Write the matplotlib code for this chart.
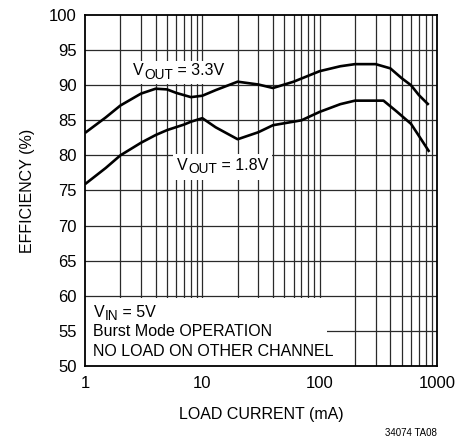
import numpy as np
import matplotlib
matplotlib.use("Agg")
import matplotlib.pyplot as plt
from matplotlib.patches import Rectangle
from matplotlib.transforms import offset_copy, Bbox

plt.rcParams['font.family'] = ['Liberation Sans Narrow', 'Liberation Sans', 'DejaVu Sans']

# load current (mA) and efficiency (%)
i_33 = [1, 1.5, 2, 3, 4, 5, 6, 8, 10, 13, 20, 30, 40, 60, 100, 150, 200, 300, 400, 500, 600, 700, 850]
eff_33 = [83.2, 85.4, 87.1, 88.8, 89.5, 89.4, 88.9, 88.3, 88.5, 89.3, 90.5, 90.1, 89.6, 90.5,
          92.0, 92.7, 93.0, 93.0, 92.4, 91.0, 90.0, 88.6, 87.2]
i_18 = [1, 1.5, 2, 3, 4, 5, 7, 8, 10, 13, 20, 30, 40, 70, 100, 150, 200, 350, 450, 600, 700, 860]
eff_18 = [75.9, 78.2, 80.0, 81.8, 82.9, 83.6, 84.4, 84.8, 85.3, 84.0, 82.3, 83.3, 84.3, 85.0,
          86.2, 87.3, 87.8, 87.8, 86.3, 84.5, 82.8, 80.5]

xticks = [1, 10, 100, 1000]
yticks = list(range(50, 101, 5))

grid_color = "#2a2a2a"
fs = 11.5
tick_fs = 12

fig = plt.figure(figsize=(4.71, 4.48), dpi=100)
ax = fig.add_axes([85 / 471, 1 - 366 / 448, 352 / 471, 351 / 448])
ax.set_xscale('log')
ax.set_xlim(1, 1000)
ax.set_ylim(50, 100)
renderer = fig.canvas.get_renderer()


def sub_text(x, y, base, sub, rest, transform, pad=0, bg=True):
    # "V" + lowered subscript + rest, drawn as plain text pieces
    t1 = ax.text(x, y, base, transform=transform, fontsize=fs, va='baseline', zorder=5)
    w1 = t1.get_window_extent(renderer).width
    tr2 = offset_copy(transform, fig=fig, x=w1 + 0.5, y=-3.3, units='dots')
    t2 = ax.text(x, y, sub, transform=tr2, fontsize=fs * 0.86, va='baseline', zorder=5)
    w2 = t2.get_window_extent(renderer).width
    tr3 = offset_copy(transform, fig=fig, x=w1 + w2 + 0.5, y=0, units='dots')
    t3 = ax.text(x, y, rest, transform=tr3, fontsize=fs, va='baseline', zorder=5)
    if bg:
        bb = Bbox.union([t.get_window_extent(renderer) for t in (t1, t2, t3)])
        bb = bb.expanded(1, 1).padded(pad)
        bb_ax = bb.transformed(ax.transAxes.inverted())
        ax.add_patch(Rectangle((bb_ax.x0, bb_ax.y0), bb_ax.width, bb_ax.height, transform=ax.transAxes,
                               facecolor='white', edgecolor='none', zorder=3))


# grid: every minor decade line and every 5 %
for dec in [1, 10, 100]:
    for k in range(2, 10):
        ax.axvline(dec * k, color=grid_color, lw=0.9, zorder=1)
for v in yticks[1:-1]:
    ax.axhline(v, color=grid_color, lw=0.9, zorder=1)
for v in [10, 100]:
    ax.axvline(v, color=grid_color, lw=0.9, zorder=1)

ax.plot(i_33, eff_33, color="black", lw=1.9, zorder=4, solid_capstyle='butt')
ax.plot(i_18, eff_18, color="black", lw=1.9, zorder=4, solid_capstyle='butt')

# curve labels with white background
sub_text(2.57, 91.4, "V", "OUT", " = 3.3V", ax.transData, pad=2)
sub_text(6.1, 77.9, "V", "OUT", " = 1.8V", ax.transData, pad=4)

# lower-left condition box
ax.add_patch(Rectangle((0, 0), (327 - 85) / 352, (366 - 297.5) / 351, transform=ax.transAxes,
                       facecolor='white', edgecolor='none', zorder=3))
sub_text(0.024, 0.14, "V", "IN", " = 5V", ax.transAxes, bg=False)
ax.text(0.024, 0.097, "Burst Mode OPERATION", transform=ax.transAxes, fontsize=fs, va='center', zorder=5)
ax.text(0.024, 0.04, "NO LOAD ON OTHER CHANNEL", transform=ax.transAxes, fontsize=fs, va='center', zorder=5)

ax.set_xticks(xticks)
ax.set_xticklabels([str(t) for t in xticks])
ax.set_yticks(yticks)
ax.set_yticklabels([str(t) for t in yticks])
ax.minorticks_off()
ax.tick_params(axis='both', length=0, labelsize=tick_fs, pad=6)
ax.tick_params(axis='x', pad=7)
for s in ax.spines.values():
    s.set_linewidth(1.3)
    s.set_zorder(6)

ax.set_xlabel("LOAD CURRENT (mA)", fontsize=fs, labelpad=12)
ax.set_ylabel("EFFICIENCY (%)", fontsize=fs, labelpad=10)

fig.text(437 / 471, 1 - 433 / 448, "34074 TA08", fontsize=7, ha='right', va='center')

plt.savefig("out.png", dpi=100)
plt.close()
